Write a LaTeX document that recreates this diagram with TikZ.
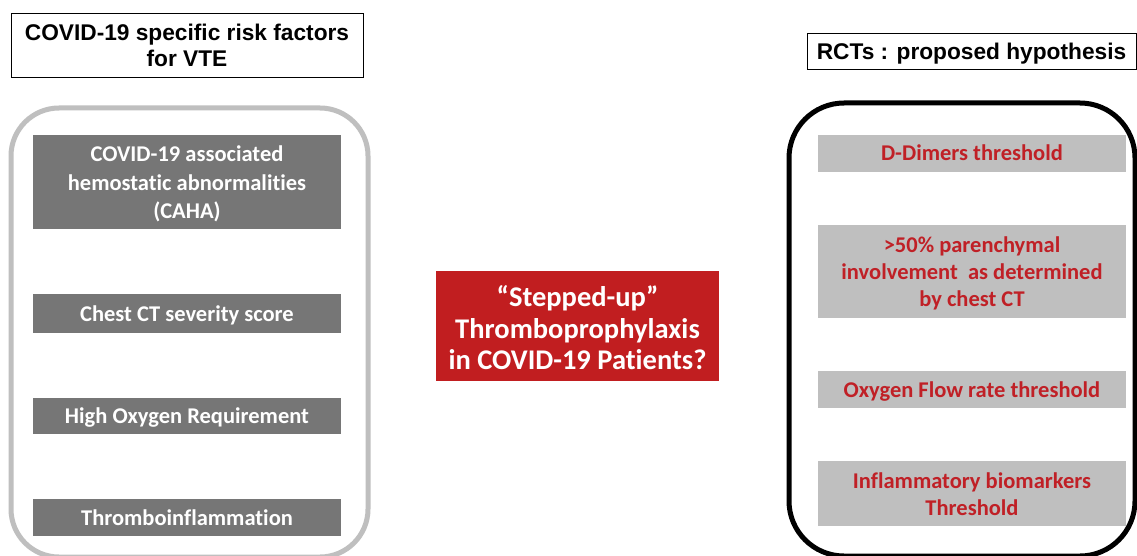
\documentclass[tikz,border=0pt]{standalone}
\usepackage{fontspec}
\setmainfont[Ligatures=NoCommon]{Carlito}
\newfontfamily\arialfont{Liberation Sans}
\definecolor{darkbox}{RGB}{118,118,118}
\definecolor{lightbox}{RGB}{191,191,191}
\definecolor{leftframe}{RGB}{191,191,191}
\definecolor{redbox}{RGB}{193,30,32}
\definecolor{redtext}{RGB}{192,32,38}
\begin{document}
\begin{tikzpicture}[x=1pt,y=-1pt,
  titlebox/.style={draw=black,line width=0.8pt,fill=white,inner sep=0pt,align=center,
    font=\arialfont\bfseries\fontsize{22.7}{26}\selectfont},
  lefttext/.style={text=white,inner sep=0pt,align=center,font=\bfseries\fontsize{22.5}{28.5}\selectfont},
  righttext/.style={text=redtext,inner sep=0pt,align=center,font=\bfseries\fontsize{22.5}{27}\selectfont},
  centertext/.style={text=white,inner sep=0pt,align=center,font=\bfseries\fontsize{28.5}{31.5}\selectfont},
  leftitem/.style={lefttext,fill=darkbox,minimum width=308pt},
  rightitem/.style={righttext,fill=lightbox,minimum width=308pt},
  oneline/.style={text height=18pt,text depth=3pt},
  centerbox/.style={fill=redbox,inner sep=0pt,minimum width=283pt,minimum height=110pt}]
\useasboundingbox (0,0) rectangle (1137,556);
\fill[white] (0,0) rectangle (1137,556);
% containers
\draw[leftframe,line width=5pt,rounded corners=48pt] (11,108) rectangle (368,557);
\draw[black,line width=5pt,rounded corners=55pt] (789,103) rectangle (1135,556);
% titles
\node[titlebox,minimum width=352pt,minimum height=64pt] (lt) at (187,45) {COVID-19 specific risk factors\\for VTE};
\node[titlebox,minimum width=329pt,minimum height=36pt,text height=20pt,text depth=2pt] (rt) at (971.5,51) {RCTs : proposed hypothesis};
% left items
\node[leftitem,minimum height=94pt,
  label={[lefttext,yshift=-2pt]center:{COVID-19 associated\\hemostatic abnormalities\\(CAHA)}}] (l1) at (187,182) {};
\node[leftitem,oneline,minimum height=39pt] (l2) at (187,313.5) {Chest CT severity score};
\node[leftitem,oneline,minimum height=36pt] (l3) at (187,416) {High Oxygen Requirement};
\node[leftitem,oneline,minimum height=37pt] (l4) at (187,517.5) {Thromboinflammation};
% center
\node[centerbox,label={[centertext,yshift=-2pt]center:{``Stepped-up''\\Thromboprophylaxis\\in COVID-19 Patients?}}] (c) at (577.5,326) {};
% right items
\node[rightitem,oneline,minimum height=37pt] (r1) at (972,153.5) {D-Dimers threshold};
\node[rightitem,minimum height=93pt,
  label={[righttext,yshift=-2pt]center:{>50\% parenchymal\\involvement\ \ as determined\\by chest CT}}] (r2) at (972,271.5) {};
\node[rightitem,oneline,minimum height=37pt] (r3) at (972,389.5) {Oxygen Flow rate threshold};
\node[rightitem,minimum height=65pt,
  label={[righttext,yshift=-1pt]center:{Inflammatory biomarkers\\Threshold}}] (r4) at (972,493.5) {};
\end{tikzpicture}
\end{document}
